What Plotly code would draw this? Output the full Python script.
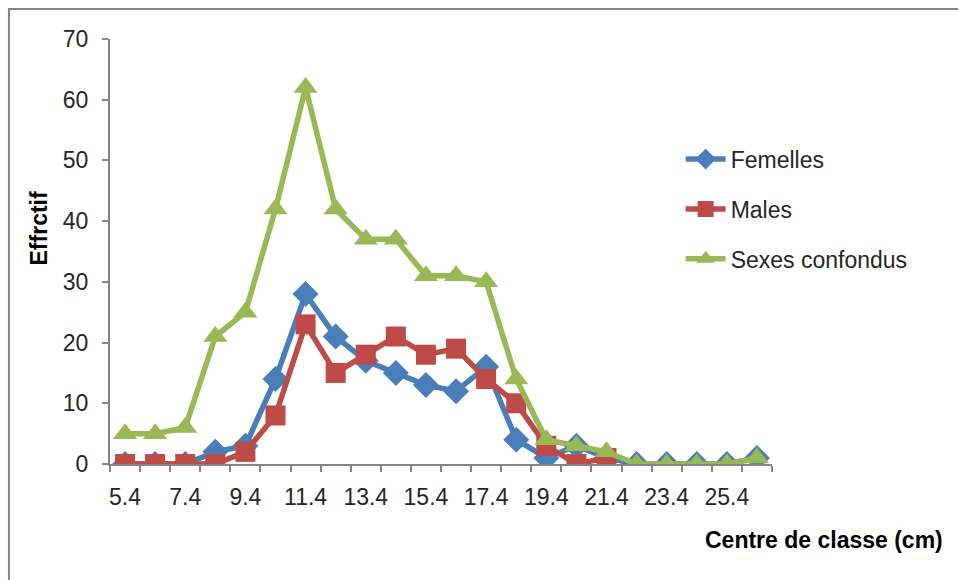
import plotly.graph_objects as go

centres = [5.4, 6.4, 7.4, 8.4, 9.4, 10.4, 11.4, 12.4, 13.4, 14.4, 15.4,
           16.4, 17.4, 18.4, 19.4, 20.4, 21.4, 22.4, 23.4, 24.4, 25.4, 26.4]
femelles = [0, 0, 0, 2, 3, 14, 28, 21, 17, 15, 13, 12, 16, 4, 1, 3, 1, 0, 0, 0, 0, 1]
males = [0, 0, 0, 0, 2, 8, 23, 15, 18, 21, 18, 19, 14, 10, 3, 0, 1]
sexes = [5, 5, 6, 21, 25, 42, 62, 42, 37, 37, 31, 31, 30, 14, 4, 3, 2, 0, 0, 0, 0, 1]
tick_labels = ["5.4", "7.4", "9.4", "11.4", "13.4", "15.4", "17.4", "19.4", "21.4", "23.4", "25.4"]
tick_vals = [5.4, 7.4, 9.4, 11.4, 13.4, 15.4, 17.4, 19.4, 21.4, 23.4, 25.4]

BLUE = "#4A7EBB"
RED = "#BE4B48"
GREEN = "#98B954"
AXIS = "#868686"
FONT = "Liberation Sans"

fig = go.Figure()
fig.add_trace(go.Scatter(x=centres[:len(femelles)], y=femelles, name="Femelles",
                         mode="lines+markers", legendgroup="f",
                         line=dict(color=BLUE, width=5.5),
                         marker=dict(symbol="diamond", size=20, color=BLUE)))
fig.add_trace(go.Scatter(x=centres[:len(males)], y=males, name="Males",
                         mode="lines+markers", legendgroup="m",
                         line=dict(color=RED, width=5.5),
                         marker=dict(symbol="square", size=20, color=RED)))
fig.add_trace(go.Scatter(x=centres[:len(sexes)], y=sexes, name="Sexes confondus",
                         mode="lines+markers", legendgroup="s",
                         line=dict(color=GREEN, width=5.5),
                         marker=dict(symbol="triangle-up", size=21, color=GREEN)))

fig.update_layout(
    width=958, height=580,
    margin=dict(l=110, r=186, t=39, b=116),
    paper_bgcolor="white", plot_bgcolor="white",
    font=dict(family=FONT, size=23, color="#262626"),
    showlegend=True,
    legend=dict(x=0.862, y=0.768, xanchor="left", yanchor="top",
                font=dict(size=23, color="#262626"),
                tracegroupgap=17, bgcolor="rgba(0,0,0,0)", itemwidth=40),
    xaxis=dict(range=[4.9, 26.9], tickmode="array", tickvals=tick_vals,
               ticktext=tick_labels, ticks="", showgrid=False, zeroline=False,
               showline=True, linecolor=AXIS, linewidth=2,
               tickfont=dict(size=23, color="#262626"),
               ticklabelstandoff=11,
               minor=dict(tick0=4.9, dtick=1, ticks="outside", ticklen=6,
                          tickcolor=AXIS, tickwidth=2, showgrid=False)),
    yaxis=dict(range=[0, 70], dtick=10, ticks="outside", ticklen=6,
               tickcolor=AXIS, tickwidth=2, showgrid=False, zeroline=False,
               showline=True, linecolor=AXIS, linewidth=2,
               tickfont=dict(size=23, color="#262626"),
               ticklabelstandoff=9),
    annotations=[
        dict(text="<b>Centre de classe (cm)</b>", xref="paper", yref="paper",
             x=1.261, y=-0.179, xanchor="right", yanchor="middle",
             showarrow=False, font=dict(size=23, color="black")),
        dict(text="<b>Effrctif</b>", xref="paper", yref="paper",
             x=-0.108, y=0.553, xanchor="center", yanchor="middle",
             textangle=-90, showarrow=False, font=dict(size=23, color="black")),
    ],
    shapes=[
        dict(type="rect", xref="paper", yref="paper",
             x0=-0.1526, x1=1.35, y0=-0.4, y1=1.0706,
             line=dict(color=AXIS, width=2), fillcolor="rgba(0,0,0,0)", layer="below"),
    ],
)

fig.write_html("out.html")
